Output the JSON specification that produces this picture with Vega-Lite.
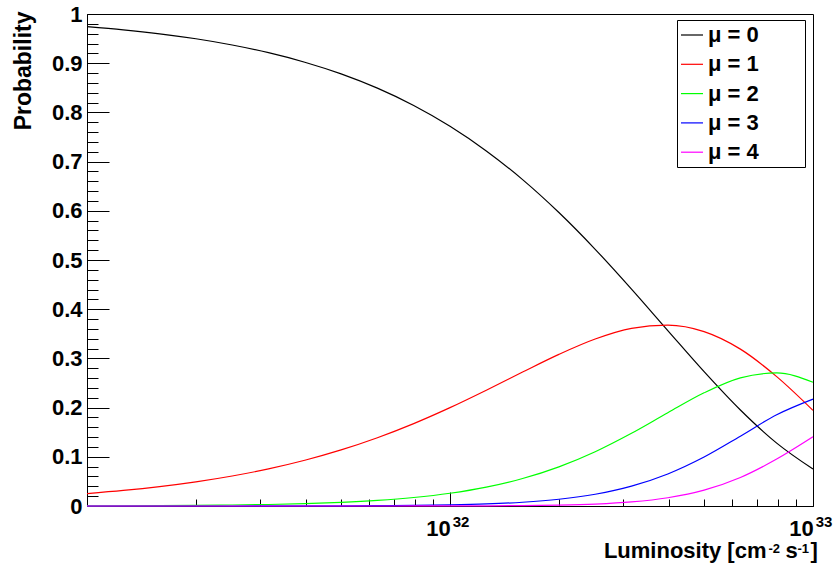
{
  "$schema": "https://vega.github.io/schema/vega-lite/v6.json",
  "width": 726,
  "height": 492,
  "autosize": {"type": "none"},
  "padding": {"left": 87, "top": 14, "right": 21, "bottom": 58},
  "background": "white",
  "config": {
    "font": "Liberation Sans",
    "view": {"stroke": "black", "strokeWidth": 1},
    "axis": {
      "grid": false,
      "domainColor": "black",
      "domainWidth": 1,
      "tickColor": "black",
      "tickWidth": 1,
      "labelColor": "black",
      "labelFont": "Liberation Sans",
      "labelFontSize": 22,
      "labelFontWeight": "bold",
      "labelOverlap": false,
      "labelFlush": false,
      "titleColor": "black",
      "titleFont": "Liberation Sans",
      "titleFontSize": 22,
      "titleFontWeight": "bold"
    }
  },
  "data": {
    "values": [
      {"L": 1e31, "P0": 0.97443, "P1": 0.025238, "P2": 0.000327, "P3": 0.0000028, "P4": 0.00000002},
      {"L": 1.2589e31, "P0": 0.96792, "P1": 0.031564, "P2": 0.000515, "P3": 0.0000056, "P4": 0.00000005},
      {"L": 1.5849e31, "P0": 0.95978, "P1": 0.039399, "P2": 0.000809, "P3": 0.0000111, "P4": 0.00000011},
      {"L": 1.9953e31, "P0": 0.94963, "P1": 0.049077, "P2": 0.001268, "P3": 0.0000218, "P4": 0.00000028},
      {"L": 2.5119e31, "P0": 0.93701, "P1": 0.060962, "P2": 0.001983, "P3": 0.000043, "P4": 0.0000007},
      {"L": 3.1623e31, "P0": 0.92136, "P1": 0.075459, "P2": 0.00309, "P3": 0.0000844, "P4": 0.0000017},
      {"L": 3.9811e31, "P0": 0.90203, "P1": 0.093008, "P2": 0.004795, "P3": 0.0001648, "P4": 0.0000042},
      {"L": 5.0119e31, "P0": 0.87826, "P1": 0.114007, "P2": 0.0074, "P3": 0.0003202, "P4": 0.0000104},
      {"L": 6.3096e31, "P0": 0.84924, "P1": 0.138783, "P2": 0.01134, "P3": 0.0006177, "P4": 0.0000252},
      {"L": 7.9433e31, "P0": 0.81405, "P1": 0.167474, "P2": 0.017227, "P3": 0.0011814, "P4": 0.0000608},
      {"L": 1e32, "P0": 0.77182, "P1": 0.199901, "P2": 0.025887, "P3": 0.0022349, "P4": 0.0001447},
      {"L": 1.2589e32, "P0": 0.72176, "P1": 0.235337, "P2": 0.038367, "P3": 0.0041701, "P4": 0.0003399},
      {"L": 1.5849e32, "P0": 0.66333, "P1": 0.27229, "P2": 0.055886, "P3": 0.0076468, "P4": 0.0007847},
      {"L": 1.9953e32, "P0": 0.59644, "P1": 0.308222, "P2": 0.07964, "P3": 0.0137188, "P4": 0.0017723},
      {"L": 2.5119e32, "P0": 0.52174, "P1": 0.339434, "P2": 0.110415, "P3": 0.0239446, "P4": 0.0038946},
      {"L": 3.1623e32, "P0": 0.44086, "P1": 0.361078, "P2": 0.147867, "P3": 0.0403692, "P4": 0.008266},
      {"L": 3.9811e32, "P0": 0.35661, "P1": 0.367701, "P2": 0.189568, "P3": 0.0651545, "P4": 0.0167955},
      {"L": 5.0119e32, "P0": 0.27306, "P1": 0.354451, "P2": 0.230051, "P3": 0.0995408, "P4": 0.032303},
      {"L": 6.3096e32, "P0": 0.19511, "P1": 0.318845, "P2": 0.260525, "P3": 0.1419158, "P4": 0.0579797},
      {"L": 7.9433e32, "P0": 0.1278, "P1": 0.262924, "P2": 0.270458, "P3": 0.1854726, "P4": 0.0953941},
      {"L": 1e33, "P0": 0.07502, "P1": 0.194302, "P2": 0.251621, "P3": 0.217232, "P4": 0.1406577}
    ]
  },
  "transform": [{"fold": ["P0", "P1", "P2", "P3", "P4"], "as": ["series", "P"]}],
  "layer": [
    {
      "mark": {"type": "line", "interpolate": "monotone", "strokeWidth": 1.2},
      "encoding": {
        "x": {
          "field": "L",
          "type": "quantitative",
          "scale": {"type": "log", "domain": [1e31, 1e33], "nice": false},
          "axis": {
            "values": [1e32, 1e33],
            "tickSize": -14,
            "labelExpr": "'10'",
            "labelOffset": -12,
            "labelBaseline": "alphabetic",
            "labelPadding": 43,
            "title": "Luminosity [cm",
            "titleX": 679,
            "titleY": 51,
            "titleAlign": "right",
            "titleBaseline": "alphabetic"
          }
        },
        "y": {
          "field": "P",
          "type": "quantitative",
          "scale": {"domain": [0, 1], "nice": false},
          "axis": {
            "values": [0, 0.1, 0.2, 0.3, 0.4, 0.5, 0.6, 0.7, 0.8, 0.9, 1],
            "tickSize": -22,
            "labelPadding": 27,
            "labelExpr": "format(datum.value, '~g')",
            "title": "Probability",
            "titleFontSize": 23,
            "titleX": -57,
            "titleY": -3,
            "titleAngle": -90,
            "titleAlign": "right",
            "titleBaseline": "alphabetic"
          }
        },
        "color": {
          "field": "series",
          "type": "nominal",
          "scale": {
            "domain": ["P0", "P1", "P2", "P3", "P4"],
            "range": ["#000000", "#ff0000", "#00ff00", "#0000ff", "#ff00ff"]
          },
          "legend": {
            "orient": "none",
            "legendX": 590,
            "legendY": 6,
            "title": null,
            "strokeColor": "black",
            "fillColor": "white",
            "padding": 3,
            "cornerRadius": 0,
            "symbolType": "stroke",
            "symbolSize": 484,
            "symbolStrokeWidth": 1.2,
            "labelFont": "Liberation Sans",
            "labelFontSize": 22,
            "labelFontWeight": "bold",
            "labelColor": "black",
            "labelOffset": 4,
            "rowPadding": 6.3,
            "labelExpr": "'μ = ' + replace(datum.label, 'P', '') + '\u00a0\u00a0\u00a0\u00a0\u00a0\u00a0\u00a0\u200b'"
          }
        }
      }
    },
    {
      "mark": {"type": "line", "interpolate": "monotone", "strokeOpacity": 0},
      "encoding": {
        "x": {
          "field": "L",
          "type": "quantitative",
          "axis": {
            "orient": "bottom",
            "values": [2e31, 3e31, 4e31, 5e31, 6e31, 7e31, 8e31, 9e31, 2e32, 3e32, 4e32, 5e32, 6e32, 7e32, 8e32, 9e32],
            "tickSize": -7,
            "labels": false,
            "domain": false,
            "title": "-2",
            "titleFontSize": 13,
            "titleX": 681,
            "titleY": 46,
            "titleAlign": "left",
            "titleBaseline": "alphabetic"
          }
        },
        "y": {
          "field": "P",
          "type": "quantitative",
          "axis": {
            "orient": "left",
            "values": [0.02, 0.04, 0.06, 0.08, 0.12, 0.14, 0.16, 0.18, 0.22, 0.24, 0.26, 0.28, 0.32, 0.34, 0.36, 0.38, 0.42, 0.44, 0.46, 0.48, 0.52, 0.54, 0.56, 0.58, 0.62, 0.64, 0.66, 0.68, 0.72, 0.74, 0.76, 0.78, 0.82, 0.84, 0.86, 0.88, 0.92, 0.94, 0.96, 0.98],
            "tickSize": -11,
            "labels": false,
            "domain": false,
            "title": "s",
            "titleAngle": 0,
            "titleX": 698,
            "titleY": 543,
            "titleAlign": "left",
            "titleBaseline": "alphabetic"
          }
        },
        "detail": {"field": "series", "type": "nominal"}
      }
    },
    {
      "mark": {"type": "line", "interpolate": "monotone", "strokeOpacity": 0},
      "encoding": {
        "x": {
          "field": "L",
          "type": "quantitative",
          "axis": {
            "orient": "bottom",
            "values": [1e32, 1e33],
            "ticks": true,
            "tickSize": 0,
            "tickOpacity": 0,
            "labelExpr": "datum.value > 5e32 ? '33' : '32'",
            "labelFontSize": 15,
            "labelOffset": 10.5,
            "labelBaseline": "alphabetic",
            "labelPadding": 20,
            "domain": false,
            "title": "-1",
            "titleFontSize": 13,
            "titleX": 710,
            "titleY": 46,
            "titleAlign": "left",
            "titleBaseline": "alphabetic"
          }
        },
        "y": {
          "field": "P",
          "type": "quantitative",
          "axis": {
            "orient": "left",
            "ticks": false,
            "labels": false,
            "domain": false,
            "title": "]",
            "titleAngle": 0,
            "titleX": 723,
            "titleY": 543,
            "titleAlign": "left",
            "titleBaseline": "alphabetic"
          }
        },
        "detail": {"field": "series", "type": "nominal"}
      }
    }
  ],
  "resolve": {"axis": {"x": "independent", "y": "independent"}}
}
